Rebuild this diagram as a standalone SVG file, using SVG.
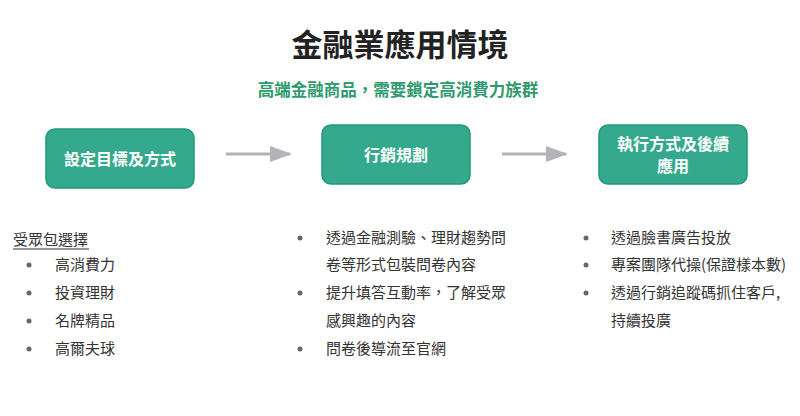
<svg xmlns="http://www.w3.org/2000/svg" width="800" height="416" viewBox="0 0 800 416">
<style>
.f{font-family:"Noto Sans CJK TC","Noto Sans CJK SC",sans-serif}
.box{fill:#35a98d;stroke:#22977a;stroke-width:1.5}
.bt{fill:#fff;font-size:16px;font-weight:bold;text-anchor:middle}
.t{fill:#333;font-size:15px}
.dot{fill:#666}
.arr{stroke:#b4b4b8;stroke-width:3;fill:none}
</style>
<defs><marker id="a" markerWidth="22" markerHeight="16" refX="20" refY="8" orient="auto" markerUnits="userSpaceOnUse"><path d="M0,0L22,8L0,16Z" fill="#b4b4b8"/></marker></defs>
<rect width="800" height="416" fill="#fff"/>
<text class="f" x="400" y="56" font-size="31" font-weight="bold" fill="#222" text-anchor="middle">金融業應用情境</text>
<text class="f" x="398" y="96" font-size="16.5" font-weight="bold" fill="#2e9a6e" text-anchor="middle">高端金融商品，需要鎖定高消費力族群</text>
<g id="n1"><rect class="box" x="46" y="129" width="148" height="59" rx="9"/><text class="f bt" x="120" y="165">設定目標及方式</text></g>
<g id="n2"><rect class="box" x="322" y="125" width="148" height="59" rx="9"/><text class="f bt" x="396" y="161">行銷規劃</text></g>
<g id="n3"><rect class="box" x="599" y="125" width="148" height="59" rx="9"/><text class="f bt" x="673" y="150">執行方式及後續</text><text class="f bt" x="673" y="172">應用</text></g>
<g id="connectors">
<path class="arr" d="M226,154H290" marker-end="url(#a)"/>
<path class="arr" d="M502,154H566" marker-end="url(#a)"/>
</g>
<g id="list1" class="f">
<text class="t" x="13" y="245">受眾包選擇</text><path d="M13,249H89" stroke="#333" stroke-width="1"/>
<circle class="dot" cx="29" cy="265" r="2.5"/><text class="t" x="55" y="270">高消費力</text>
<circle class="dot" cx="29" cy="293" r="2.5"/><text class="t" x="55" y="298">投資理財</text>
<circle class="dot" cx="29" cy="321" r="2.5"/><text class="t" x="55" y="326">名牌精品</text>
<circle class="dot" cx="29" cy="349" r="2.5"/><text class="t" x="55" y="354">高爾夫球</text>
</g>
<g id="list2" class="f">
<circle class="dot" cx="300" cy="238" r="2.5"/><text class="t" x="326" y="243">透過金融測驗、理財趨勢問</text>
<text class="t" x="326" y="270">卷等形式包裝問卷內容</text>
<circle class="dot" cx="300" cy="293" r="2.5"/><text class="t" x="326" y="298">提升填答互動率，了解受眾</text>
<text class="t" x="326" y="326">感興趣的內容</text>
<circle class="dot" cx="300" cy="349" r="2.5"/><text class="t" x="326" y="354">問卷後導流至官網</text>
</g>
<g id="list3" class="f">
<circle class="dot" cx="586" cy="238" r="2.5"/><text class="t" x="611" y="243">透過臉書廣告投放</text>
<circle class="dot" cx="586" cy="265" r="2.5"/><text class="t" x="611" y="270">專案團隊代操(保證樣本數)</text>
<circle class="dot" cx="586" cy="293" r="2.5"/><text class="t" x="611" y="298">透過行銷追蹤碼抓住客戶,</text>
<text class="t" x="611" y="326">持續投廣</text>
</g>
</svg>
